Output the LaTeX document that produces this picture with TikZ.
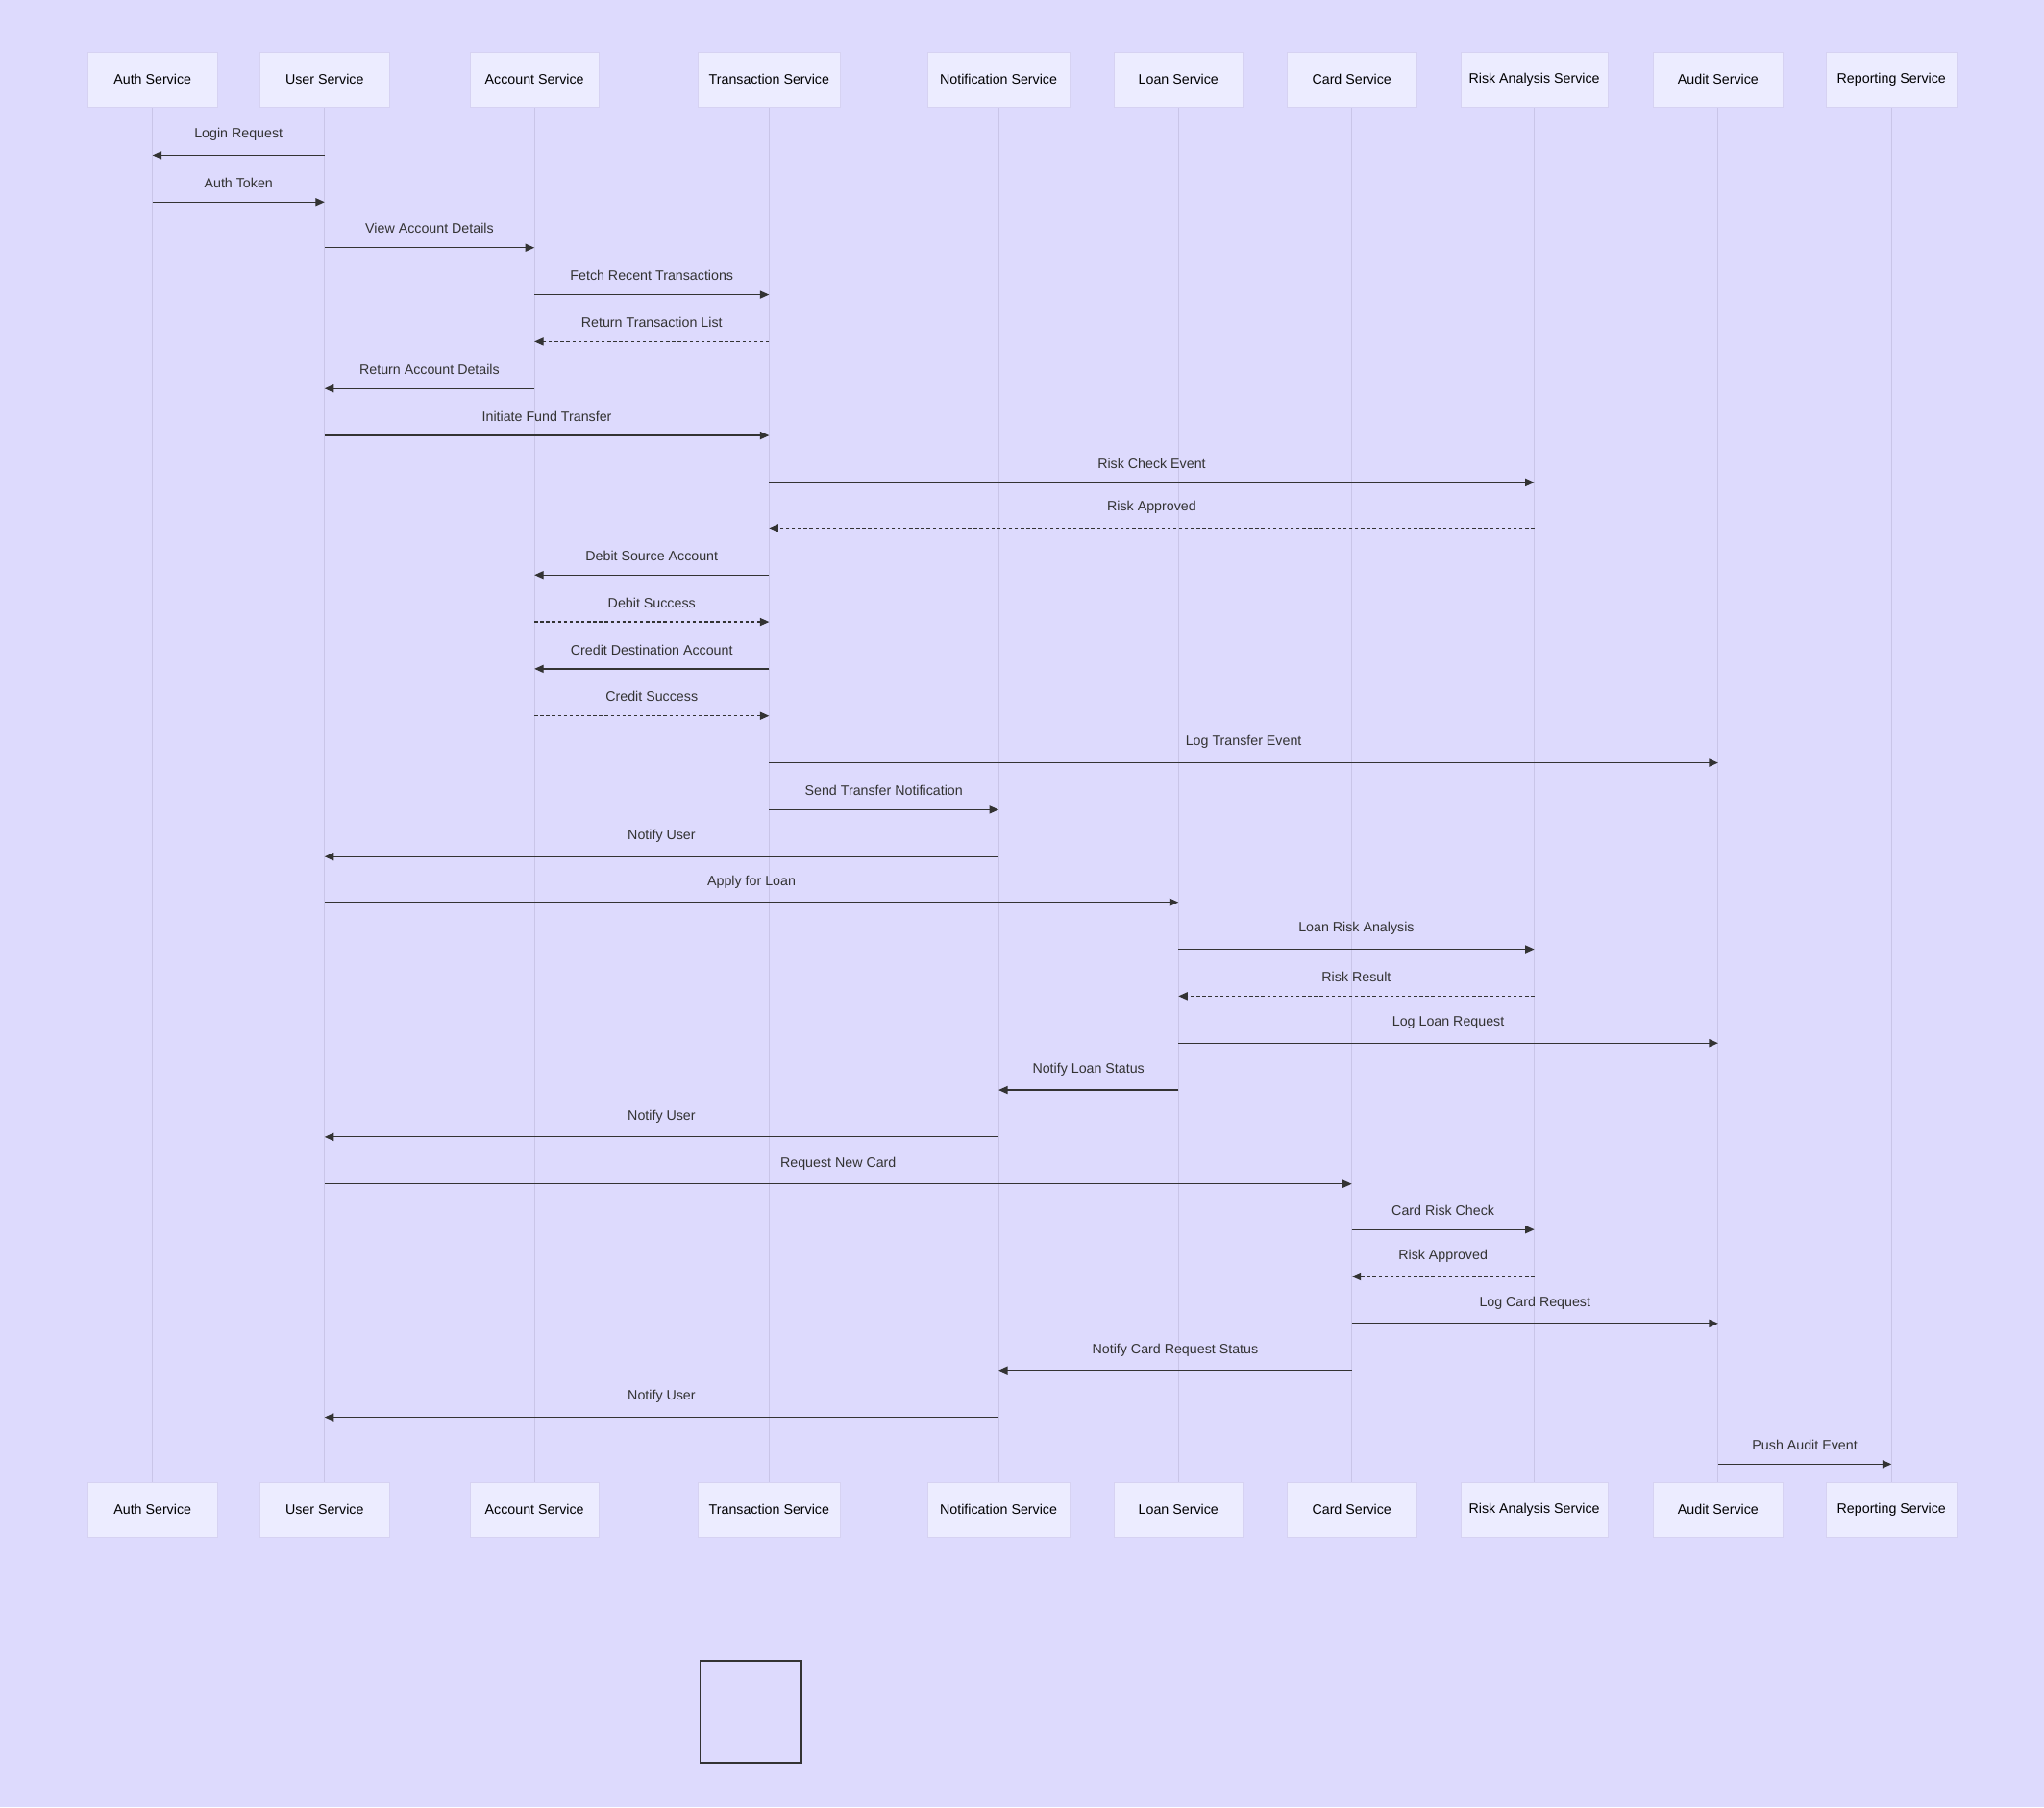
\documentclass[tikz,border=0pt]{standalone}
\usepackage{fontspec}
\setmainfont{Liberation Sans}
\usetikzlibrary{arrows.meta}
\definecolor{bg}{HTML}{DDDAFD}
\definecolor{boxf}{HTML}{ECECFF}
\definecolor{boxd}{HTML}{D6D2F2}
\definecolor{life}{HTML}{C9C5E8}
\definecolor{ink}{HTML}{333333}
\begin{document}
\begin{tikzpicture}[x=1pt,y=-1pt,
  actor/.style={draw=boxd,fill=boxf,minimum height=42pt,inner sep=0pt,font=\fontsize{10.5}{12}\selectfont,text=black},
  msgline/.style={draw=ink,line width=0.9pt,-{Triangle[length=7pt,width=6pt]}},
  ret/.style={msgline,dash pattern=on 2.5pt off 2pt},
  lbl/.style={font=\fontsize{10.5}{12}\selectfont,text=ink}]
\fill[bg] (0,0) rectangle (1568,1386);
\useasboundingbox (0,0) rectangle (1568,1386);
\foreach \n/\x/\w/\t in {auth/117/99/Auth Service,user/249/99/User Service,acc/410/99/Account Service,tra/590/109/Transaction Service,noti/766/109/Notification Service,loan/904/99/Loan Service,card/1037/99/Card Service,risk/1177/113/Risk Analysis Service,audit/1318/99/Audit Service,rep/1451/100/Reporting Service}{
  \draw[life,line width=0.8pt] (\x,82) -- (\x,1137);
  \node[actor,minimum width=\w pt] (t\n) at (\x,61) {\t};
  \node[actor,minimum width=\w pt] (b\n) at (\x,1158) {\t};
}
\newcommand\msg[5]{\draw[#5] (t#1 |- 0,#3) -- (t#2 |- 0,#3) node[lbl,midway,above=7pt] {#4};}
\msg{user}{auth}{119}{Login Request}{msgline}
\msg{auth}{user}{155}{Auth Token}{msgline}
\msg{user}{acc}{190}{View Account Details}{msgline}
\msg{acc}{tra}{226}{Fetch Recent Transactions}{msgline}
\msg{tra}{acc}{262}{Return Transaction List}{ret}
\msg{acc}{user}{298}{Return Account Details}{msgline}
\msg{user}{tra}{334}{Initiate Fund Transfer}{msgline}
\msg{tra}{risk}{370}{Risk Check Event}{msgline}
\msg{risk}{tra}{405}{Risk Approved}{ret}
\msg{tra}{acc}{441}{Debit Source Account}{msgline}
\msg{acc}{tra}{477}{Debit Success}{ret}
\msg{tra}{acc}{513}{Credit Destination Account}{msgline}
\msg{acc}{tra}{549}{Credit Success}{ret}
\msg{tra}{audit}{585}{Log Transfer Event}{msgline}
\msg{tra}{noti}{621}{Send Transfer Notification}{msgline}
\msg{noti}{user}{657}{Notify User}{msgline}
\msg{user}{loan}{692}{Apply for Loan}{msgline}
\msg{loan}{risk}{728}{Loan Risk Analysis}{msgline}
\msg{risk}{loan}{764}{Risk Result}{ret}
\msg{loan}{audit}{800}{Log Loan Request}{msgline}
\msg{loan}{noti}{836}{Notify Loan Status}{msgline}
\msg{noti}{user}{872}{Notify User}{msgline}
\msg{user}{card}{908}{Request New Card}{msgline}
\msg{card}{risk}{943}{Card Risk Check}{msgline}
\msg{risk}{card}{979}{Risk Approved}{ret}
\msg{card}{audit}{1015}{Log Card Request}{msgline}
\msg{card}{noti}{1051}{Notify Card Request Status}{msgline}
\msg{noti}{user}{1087}{Notify User}{msgline}
\msg{audit}{rep}{1123}{Push Audit Event}{msgline}
\node[draw=ink,line width=1.3pt,minimum width=78pt,minimum height=78pt,inner sep=0pt] (sq) at (576,1313) {};
\end{tikzpicture}
\end{document}
